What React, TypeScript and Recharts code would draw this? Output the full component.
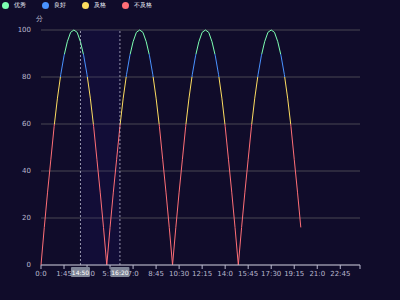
import { CartesianGrid, Line, LineChart, ReferenceArea, ReferenceLine, XAxis, YAxis } from "recharts";

// 15-minute slots, 0:0 .. 24:15
const times = Array.from({ length: 98 }, (_, i) => `${Math.floor(i / 4)}:${(i % 4) * 15}`);
const scores = [
  0, 16, 31, 45, 59, 71, 81, 89, 95, 99, 100, 99, 95, 89, 81, 71, 59, 45, 31, 16,
  0, 16, 31, 45, 59, 71, 81, 89, 95, 99, 100, 99, 95, 89, 81, 71, 59, 45, 31, 16,
  0, 16, 31, 45, 59, 71, 81, 89, 95, 99, 100, 99, 95, 89, 81, 71, 59, 45, 31, 16,
  0, 16, 31, 45, 59, 71, 81, 89, 95, 99, 100, 99, 95, 89, 81, 71, 59, 45, 31, 16,
];
const levels = [
  { name: "优秀", color: "#7cffb2", min: 90, max: 100 },
  { name: "良好", color: "#4992ff", min: 80, max: 90 },
  { name: "及格", color: "#fddd60", min: 60, max: 80 },
  { name: "不及格", color: "#ff6e76", min: 0, max: 60 },
];
const yTicks = [0, 20, 40, 60, 80, 100];
const markStart = { index: 12, label: "14:50" };
const markEnd = { index: 24, label: "16:20" };

const data = times.map((t, i) => ({ time: t, score: scores[i] ?? null }));
const xTicks = [...times.filter((_, i) => i % 7 === 0), times[times.length - 1]];

const TEXT = "#B9B8CE";

function MarkLabel({ viewBox, text }: any) {
  if (!viewBox) return null;
  const x = viewBox.x;
  const y = viewBox.y + viewBox.height + 2;
  return (
    <g>
      <rect x={x - 9.5} y={y} width={19} height={10} rx={1} fill="#7f8597" />
      <text x={x} y={y + 7.5} textAnchor="middle" fontSize={6} fill="#fff">{text}</text>
    </g>
  );
}

export default function App() {
  return (
    <div style={{ position: "fixed", left: 0, top: 0, width: 400, height: 300, background: "#100C2A", fontFamily: "'DejaVu Sans', sans-serif" }}>
      <div style={{ position: "absolute", left: 2, top: 0, height: 11, display: "flex", alignItems: "center", fontSize: 6, color: "#EEF1FA" }}>
        {levels.map((l) => (
          <div key={l.name} style={{ display: "flex", alignItems: "center", width: 40 }}>
            <span style={{ width: 7, height: 7, borderRadius: 4, background: l.color, marginRight: 5 }} />
            <span>{l.name}</span>
          </div>
        ))}
      </div>
      <div style={{ position: "absolute", left: 36, top: 14, fontSize: 7, color: TEXT }}>分</div>
      <LineChart width={400} height={300} data={data} margin={{ top: 30, right: 40, bottom: 15, left: 0 }}>
        <defs>
          <linearGradient id="scoreGrad" x1="0" y1="0" x2="0" y2="1">
            {levels.flatMap((l) => [
              <stop key={l.name + "a"} offset={(100 - l.max) / 100} stopColor={l.color} />,
              <stop key={l.name + "b"} offset={(100 - l.min) / 100} stopColor={l.color} />,
            ])}
          </linearGradient>
        </defs>
        <CartesianGrid vertical={false} stroke="#484753" />
        <ReferenceArea x1={times[markStart.index]} x2={times[markEnd.index]} fill="#1a1875" fillOpacity={0.18} stroke="none" />
        <XAxis
          dataKey="time"
          ticks={xTicks}
          interval={0}
          height={20}
          stroke={TEXT}
          tickSize={4}
          tick={{ fontSize: 7, fill: TEXT }}
          tickFormatter={(v: string) => (v === times[times.length - 1] ? "" : v)}
        />
        <YAxis domain={[0, 100]} ticks={yTicks} width={41} axisLine={false} tickLine={false} tickMargin={4} tick={{ fontSize: 7, fill: TEXT }} />
        <Line type="linear" dataKey="score" stroke="url(#scoreGrad)" strokeWidth={1} dot={false} isAnimationActive={false} />
        <ReferenceLine x={times[markStart.index]} zIndex={2000} stroke={TEXT} strokeDasharray="2 2" strokeOpacity={0.8} label={<MarkLabel text={markStart.label} />} />
        <ReferenceLine x={times[markEnd.index]} zIndex={2000} stroke={TEXT} strokeDasharray="2 2" strokeOpacity={0.8} label={<MarkLabel text={markEnd.label} />} />
      </LineChart>
    </div>
  );
}
